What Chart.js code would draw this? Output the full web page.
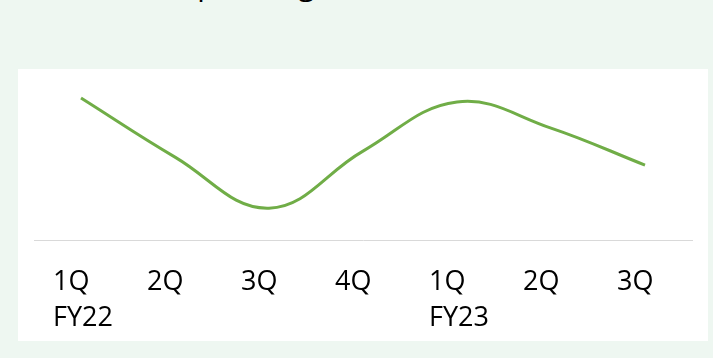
<!DOCTYPE html>
<html>
<head>
<meta charset="utf-8">
<script src="https://cdn.jsdelivr.net/npm/chart.js@4"></script>
<style>
  html, body { margin: 0; padding: 0; }
  body { width: 713px; height: 358px; background: rgb(238,247,241); position: relative; overflow: hidden; font-family: "Open Sans", sans-serif; }
  #title { position: absolute; left: 174px; top: -31px; font-size: 30px; line-height: 30px; color: #000; white-space: nowrap; }
  #panel { position: absolute; left: 18px; top: 69px; width: 690px; height: 272px; background: #fff; }
  #c { position: absolute; left: 0; top: 0; display: block; }
</style>
</head>
<body>
<div id="title">Operating income</div>
<div id="panel"><canvas id="c" width="690" height="291"></canvas></div>
<script>
const quarters = [["1Q", "FY22"], "2Q", "3Q", "4Q", ["1Q", "FY23"], "2Q", "3Q"];
const values = [142, 83, 32, 89, 138, 112, 75];
const yMin = 0;
const yMax = 160;

new Chart(document.getElementById('c'), {
  type: 'line',
  data: {
    labels: quarters,
    datasets: [{
      data: values,
      borderColor: '#70AD47',
      borderWidth: 3,
      pointRadius: 0,
      tension: 0.4,
      fill: false
    }]
  },
  options: {
    responsive: false,
    animation: false,
    layout: { padding: { left: 16, right: 16, top: 11, bottom: 0 } },
    plugins: { legend: { display: false }, tooltip: { enabled: false }, title: { display: false } },
    scales: {
      x: {
        offset: true,
        grid: { display: false, drawTicks: false },
        border: { display: true, color: '#d9d9d9', width: 1 },
        ticks: {
          align: 'start',
          labelOffset: -28,
          padding: 24,
          color: '#000',
          maxRotation: 0,
          autoSkip: false,
          font: { family: 'Open Sans', size: 27, lineHeight: 1.33 }
        }
      },
      y: {
        display: false,
        min: yMin,
        max: yMax
      }
    }
  }
});
</script>
</body>
</html>
